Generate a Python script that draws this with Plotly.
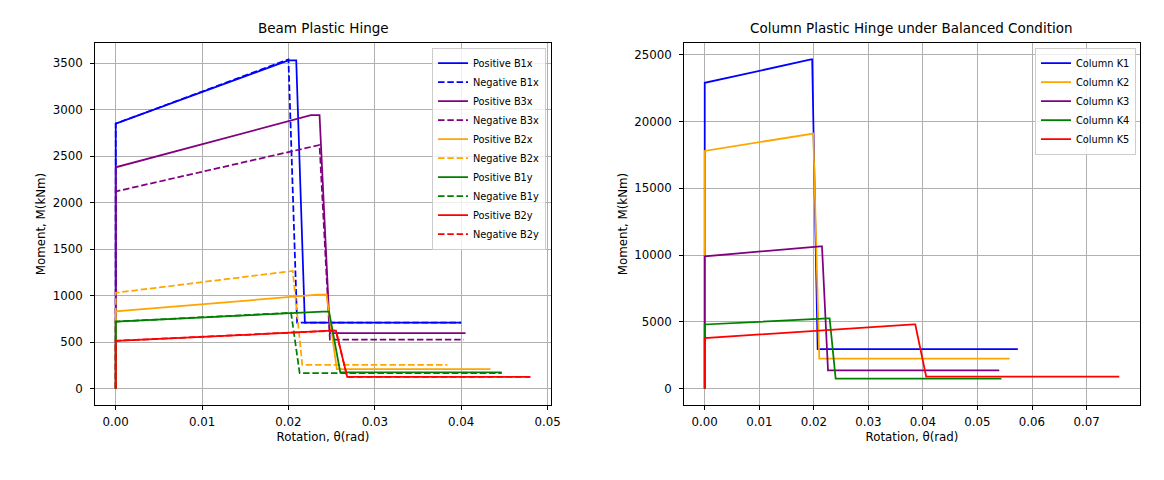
import plotly.graph_objects as go

# ---------------- Beam plastic hinge data ----------------
beam_names = ["Positive B1x", "Negative B1x", "Positive B3x", "Negative B3x",
              "Positive B2x", "Negative B2x", "Positive B1y", "Negative B1y",
              "Positive B2y", "Negative B2y"]
beam_colors = ["blue", "blue", "purple", "purple", "orange", "orange",
               "green", "green", "red", "red"]
beam_dashed = [False, True, False, True, False, True, False, True, False, True]

pos_b1x_rot = [0, 0, 0.0200, 0.0209, 0.0219, 0.0400]
pos_b1x_m = [0, 2850, 3530, 3530, 710, 710]
neg_b1x_rot = [0, 0, 0.0200, 0.0210, 0.0400]
neg_b1x_m = [0, 2850, 3540, 710, 710]
pos_b3x_rot = [0, 0, 0.0226, 0.0236, 0.0248, 0.0405]
pos_b3x_m = [0, 2380, 2940, 2940, 595, 595]
neg_b3x_rot = [0, 0, 0.0236, 0.0248, 0.0403]
neg_b3x_m = [0, 2120, 2620, 525, 525]
pos_b2x_rot = [0, 0, 0.0234, 0.0244, 0.0256, 0.0434]
pos_b2x_m = [0, 830, 1010, 1010, 210, 210]
neg_b2x_rot = [0, 0, 0.0205, 0.0216, 0.0384]
neg_b2x_m = [0, 1030, 1265, 255, 255]
pos_b1y_rot = [0, 0, 0.0240, 0.0247, 0.0260, 0.0447]
pos_b1y_m = [0, 720, 828, 828, 175, 175]
neg_b1y_rot = [0, 0, 0.0203, 0.0213, 0.0447]
neg_b1y_m = [0, 720, 815, 165, 165]
pos_b2y_rot = [0, 0, 0.0250, 0.0255, 0.0268, 0.0480]
pos_b2y_m = [0, 513, 622, 622, 125, 125]
neg_b2y_rot = [0, 0, 0.0250, 0.0255, 0.0268, 0.0480]
neg_b2y_m = [0, 513, 622, 622, 125, 125]

beam_rot = [pos_b1x_rot, neg_b1x_rot, pos_b3x_rot, neg_b3x_rot, pos_b2x_rot,
            neg_b2x_rot, pos_b1y_rot, neg_b1y_rot, pos_b2y_rot, neg_b2y_rot]
beam_m = [pos_b1x_m, neg_b1x_m, pos_b3x_m, neg_b3x_m, pos_b2x_m,
          neg_b2x_m, pos_b1y_m, neg_b1y_m, pos_b2y_m, neg_b2y_m]

# ---------------- Column plastic hinge data ----------------
col_names = ["Column K1", "Column K2", "Column K3", "Column K4", "Column K5"]
col_colors = ["blue", "orange", "purple", "green", "red"]
k1_rot = [0, 0, 0.0195, 0.0197, 0.0207, 0.0574]
k1_m = [0, 22900, 24650, 24650, 2950, 2950]
k2_rot = [0, 0, 0.0199, 0.0210, 0.0559]
k2_m = [0, 17800, 19100, 2240, 2240]
k3_rot = [0, 0, 0.0212, 0.0215, 0.0226, 0.0540]
k3_m = [0, 9900, 10650, 10650, 1360, 1360]
k4_rot = [0, 0, 0.0226, 0.0229, 0.0240, 0.0544]
k4_m = [0, 4800, 5250, 5250, 740, 740]
k5_rot = [0, 0, 0.0383, 0.0386, 0.0406, 0.0760]
k5_m = [0, 3780, 4800, 4800, 900, 900]
col_rot = [k1_rot, k2_rot, k3_rot, k4_rot, k5_rot]
col_m = [k1_m, k2_m, k3_m, k4_m, k5_m]

FONT = "DejaVu Sans"
LW = 1.75
DASH = "6.5px,2.8px"

fig = go.Figure()
for name, color, dashed, xs, ys in zip(beam_names, beam_colors, beam_dashed, beam_rot, beam_m):
    fig.add_trace(go.Scatter(x=xs, y=ys, mode="lines", name=name,
                             line=dict(color=color, width=LW, dash=DASH if dashed else "solid"),
                             xaxis="x", yaxis="y", legend="legend"))
for name, color, xs, ys in zip(col_names, col_colors, col_rot, col_m):
    fig.add_trace(go.Scatter(x=xs, y=ys, mode="lines", name=name,
                             line=dict(color=color, width=LW),
                             xaxis="x2", yaxis="y2", legend="legend2"))


def padded(vals_list):
    lo = min(min(v) for v in vals_list)
    hi = max(max(v) for v in vals_list)
    pad = (hi - lo) * 0.05
    return [lo - pad, hi + pad]


axis_common = dict(showline=True, linecolor="black", linewidth=0.9, mirror=True,
                   ticks="outside", ticklen=4, tickwidth=0.9, tickcolor="black",
                   showgrid=True, gridcolor="#b0b0b0", gridwidth=0.9, zeroline=False,
                   tickfont=dict(family=FONT, size=11.8, color="black"))

ML, MR, MT, MB = 95, 24, 42.7, 75
W, H = 1164, 480
pw = W - ML - MR
ph = H - MT - MB
left_dom = [0, (551 - ML) / pw]
right_dom = [(684 - ML) / pw, 1]

title_font = dict(family=FONT, size=11.8, color="black")
legend_font = dict(family=FONT, size=9.8, color="black")

fig.update_layout(
    width=W, height=H,
    margin=dict(l=ML, r=MR, t=MT, b=MB),
    paper_bgcolor="white", plot_bgcolor="white",
    font=dict(family=FONT, color="black"),
    xaxis=dict(domain=left_dom, range=padded(beam_rot), dtick=0.01, tick0=0, tickformat=".2f",
               ticklabelstandoff=2,
               title=dict(text="Rotation, θ(rad)", font=title_font, standoff=4), anchor="y", **axis_common),
    yaxis=dict(domain=[0, 1], range=padded(beam_m), dtick=500, tick0=0, tickformat="d",
               ticklabelstandoff=5,
               title=dict(text="Moment, M(kNm)", font=title_font, standoff=4), anchor="x", **axis_common),
    xaxis2=dict(domain=right_dom, range=padded(col_rot), dtick=0.01, tick0=0, tickformat=".2f",
                ticklabelstandoff=2,
                title=dict(text="Rotation, θ(rad)", font=title_font, standoff=4), anchor="y2", **axis_common),
    yaxis2=dict(domain=[0, 1], range=padded(col_m), dtick=5000, tick0=0, tickformat="d",
                ticklabelstandoff=5,
                title=dict(text="Moment, M(kNm)", font=title_font, standoff=4), anchor="x2", **axis_common),
    legend=dict(x=(546 - ML) / pw, y=(H - MB - 47.3) / ph, xanchor="right", yanchor="top",
                bgcolor="rgba(255,255,255,0.8)", bordercolor="#cccccc", borderwidth=1,
                font=legend_font, tracegroupgap=0),
    legend2=dict(x=(1136 - ML) / pw, y=(H - MB - 47.3) / ph, xanchor="right", yanchor="top",
                 bgcolor="rgba(255,255,255,0.8)", bordercolor="#cccccc", borderwidth=1,
                 font=legend_font, tracegroupgap=0),
    annotations=[
        dict(text="Beam Plastic Hinge", xref="paper", yref="paper",
             x=(left_dom[0] + left_dom[1]) / 2, y=1 + (MT - 28) / ph,
             xanchor="center", yanchor="middle", showarrow=False,
             font=dict(family=FONT, size=13.5, color="black")),
        dict(text="Column Plastic Hinge under Balanced Condition", xref="paper", yref="paper",
             x=(right_dom[0] + right_dom[1]) / 2, y=1 + (MT - 28) / ph,
             xanchor="center", yanchor="middle", showarrow=False,
             font=dict(family=FONT, size=13.5, color="black")),
    ],
)

fig.write_html("out.html")
